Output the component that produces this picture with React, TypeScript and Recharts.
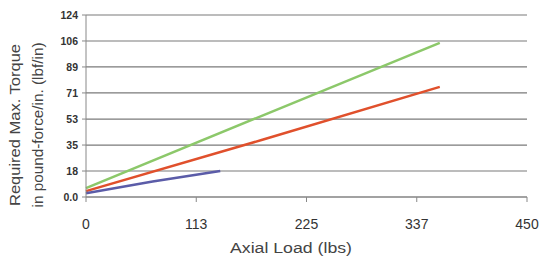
import React from "react";
import {
  LineChart,
  Line,
  XAxis,
  YAxis,
  CartesianGrid,
  Label
} from "recharts";

const xTicks = [0, 112.5, 225, 337.5, 450];
const xTickLabels = ["0", "113", "225", "337", "450"];
const yTicks = [0, 17.7, 35.4, 53.1, 70.9, 88.6, 106.3, 124];
const yTickLabels = ["0.0", "18", "35", "53", "71", "89", "106", "124"];

const greenSeries = [
  { load: 0, torque: 6 },
  { load: 180, torque: 55.5 },
  { load: 361, torque: 105 }
];
const redSeries = [
  { load: 0, torque: 4 },
  { load: 180, torque: 39 },
  { load: 361, torque: 75 }
];
const blueSeries = [
  { load: 0, torque: 2.5 },
  { load: 68, torque: 10.5 },
  { load: 137, torque: 17.7 }
];

const font = "'Liberation Sans', Arial, sans-serif";

// two-line rotated title, sits a bit below the plot centre like the original
const YTitle = () => {
  const cy = 125;
  return (
    <g fontFamily={font} fontSize={14} fill="#444">
      <text
        transform={`translate(20, ${cy}) rotate(-90)`}
        textAnchor="middle"
        textLength={162}
        lengthAdjust="spacingAndGlyphs"
      >
        Required Max. Torque
      </text>
      <text
        transform={`translate(43, ${cy}) rotate(-90)`}
        textAnchor="middle"
        textLength={165}
        lengthAdjust="spacingAndGlyphs"
      >
        in pound-force/in. (lbf/in)
      </text>
    </g>
  );
};

const XTitle = () => (
  <text
    x={291}
    y={253}
    textAnchor="middle"
    fontFamily={font}
    fontSize={14}
    fill="#444"
    textLength={122}
    lengthAdjust="spacingAndGlyphs"
  >
    Axial Load (lbs)
  </text>
);

const App = () => {
  return (
    <div style={{ position: "absolute", left: 0, top: 0 }}>
      <LineChart
        width={540}
        height={257}
        margin={{ top: 15, right: 13, bottom: 30, left: 0 }}
      >
        <CartesianGrid vertical={false} stroke="#7a7a7a" strokeWidth={1.2} />
        <XAxis
          type="number"
          dataKey="load"
          domain={[0, 450]}
          ticks={xTicks}
          tickFormatter={(v: number) => xTickLabels[xTicks.indexOf(v)]}
          stroke="#888"
          tickSize={5}
          tickMargin={17}
          height={30}
          tick={{ fill: "#333", fontSize: 14, fontFamily: font }}
          interval={0}
        >
          <Label content={<XTitle />} />
        </XAxis>
        <YAxis
          type="number"
          width={86}
          domain={[0, 124]}
          ticks={yTicks}
          tickFormatter={(v: number) => yTickLabels[yTicks.indexOf(v)]}
          stroke="#888"
          tickSize={4}
          tickMargin={4}
          tick={{ fill: "#333", fontSize: 10.5, fontFamily: font, fontWeight: "bold" }}
          interval={0}
        >
          <Label content={<YTitle />} />
        </YAxis>
        <Line
          data={greenSeries}
          dataKey="torque"
          stroke="#8cc86a"
          strokeWidth={2.5}
          dot={false}
          isAnimationActive={false}
        />
        <Line
          data={redSeries}
          dataKey="torque"
          stroke="#e0502c"
          strokeWidth={2.5}
          dot={false}
          isAnimationActive={false}
        />
        <Line
          data={blueSeries}
          dataKey="torque"
          stroke="#5b5ca8"
          strokeWidth={2.5}
          dot={false}
          isAnimationActive={false}
        />
      </LineChart>
    </div>
  );
};

export default App;
